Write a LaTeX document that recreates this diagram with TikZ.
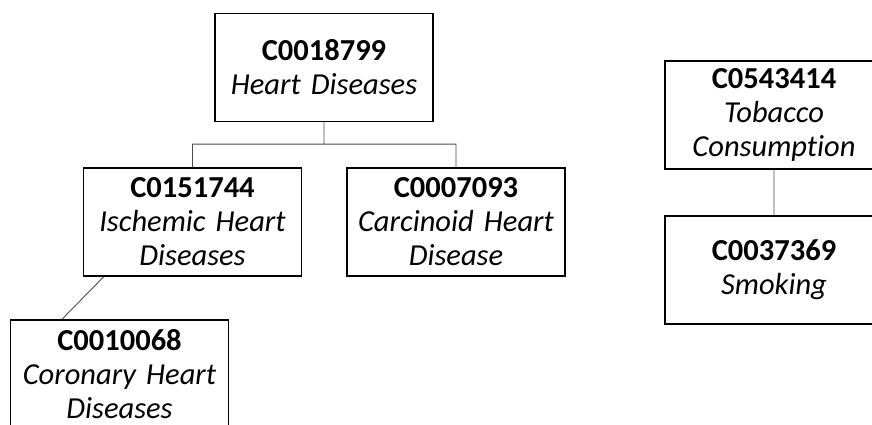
\documentclass[tikz,border=0pt]{standalone}
\usepackage{fontspec}
\setmainfont{Carlito}[Ligatures=NoCommon,WordSpace=0.8]
\usetikzlibrary{calc,positioning}

\begin{document}
\begin{tikzpicture}[x=1pt,y=-1pt,
	concept/.style={draw,line width=1.3pt,minimum width=218pt,minimum height=108pt,
		text width=214pt,align=center,inner sep=0pt,
		font=\fontsize{30.5}{34}\selectfont},
	link/.style={draw=black!70,line width=0.9pt}]
			\useasboundingbox (0,0) rectangle (872,425);
			\clip (0,0) rectangle (872,425);
			\node[concept] (hd) at (324,67.5) {\textbf{C0018799}\\\textit{Heart Diseases}};
			\node[concept] (ihd) at (192.5,222) {\textbf{C0151744}\\\textit{Ischemic Heart}\\\textit{Diseases}};
			\node[concept] (chd) at (456,222) {\textbf{C0007093}\\\textit{Carcinoid Heart}\\\textit{Disease}};
			\node[concept] (cor) at (119.5,374) {\textbf{C0010068}\\\textit{Coronary Heart}\\\textit{Diseases}};
			\node[concept] (tob) at (774,115) {\textbf{C0543414}\\\textit{Tobacco}\\\textit{Consumption}};
			\node[concept] (smk) at (774,270) {\textbf{C0037369}\\\textit{Smoking}};
			\path
			(hd.south) ++(0,22) coordinate (bus)
			($(ihd.south west)+(21,0)$) coordinate (ihdfoot)
			($(cor.north west)+(52,0)$) coordinate (corhead);
			\draw[link] (hd.south)--(bus) (bus)-|(ihd.north) (bus)-|(chd.north)
			(ihdfoot)--(corhead) (tob.south)--(smk.north);
		\end{tikzpicture}
\end{document}
